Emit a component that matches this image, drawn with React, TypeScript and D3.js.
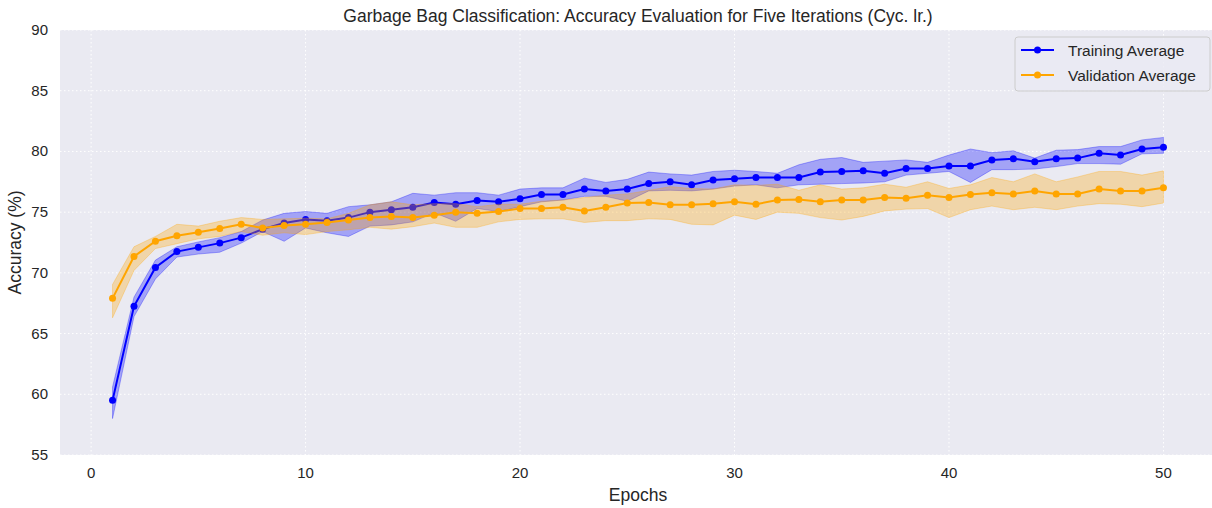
import React from "react";
import * as d3 from "d3";

const epochs: number[] = Array.from({ length: 50 }, (_, i) => i + 1);

const trainMean = [59.5, 67.25, 70.45, 71.75, 72.1, 72.45, 72.9, 73.6, 74.1, 74.4, 74.3, 74.55, 75.0, 75.2, 75.4, 75.8, 75.65, 75.95, 75.85, 76.1, 76.45, 76.45, 76.9, 76.75, 76.9, 77.35, 77.5, 77.25, 77.65, 77.75, 77.85, 77.85, 77.85, 78.3, 78.35, 78.4, 78.2, 78.6, 78.6, 78.8, 78.8, 79.3, 79.4, 79.15, 79.4, 79.45, 79.85, 79.7, 80.2, 80.35];
const trainHigh = [60.6, 68.0, 71.05, 72.15, 72.55, 72.9, 73.4, 74.35, 74.9, 75.05, 74.9, 75.45, 75.6, 75.85, 76.55, 76.4, 76.6, 76.6, 76.4, 76.9, 77.0, 77.0, 77.8, 77.45, 77.7, 78.3, 78.15, 78.05, 78.35, 78.45, 78.35, 78.2, 78.9, 79.35, 79.5, 79.1, 79.2, 79.3, 79.1, 79.7, 80.2, 79.9, 80.05, 79.45, 80.1, 80.15, 80.4, 80.4, 80.95, 81.15];
const trainLow = [58.0, 66.4, 69.5, 71.3, 71.55, 71.7, 72.45, 73.4, 72.6, 73.7, 73.3, 73.0, 73.85, 73.95, 74.2, 74.95, 74.25, 75.3, 75.05, 75.45, 75.85, 76.0, 76.3, 76.3, 75.9, 76.75, 76.8, 76.75, 76.9, 77.15, 77.25, 77.0, 77.25, 77.3, 77.35, 77.4, 77.5, 78.05, 78.2, 78.35, 77.45, 78.5, 78.5, 78.55, 78.75, 79.0, 79.0, 78.95, 79.8, 79.85];

const valMean = [67.9, 71.35, 72.6, 73.05, 73.35, 73.65, 74.0, 73.7, 73.9, 74.0, 74.15, 74.35, 74.55, 74.65, 74.55, 74.75, 75.0, 74.9, 75.05, 75.3, 75.3, 75.4, 75.1, 75.4, 75.75, 75.8, 75.6, 75.6, 75.7, 75.85, 75.65, 76.0, 76.05, 75.85, 76.0, 76.0, 76.2, 76.15, 76.4, 76.2, 76.45, 76.6, 76.5, 76.75, 76.5, 76.5, 76.9, 76.75, 76.75, 77.0];
const valHigh = [69.05, 72.15, 73.0, 74.0, 73.85, 74.25, 74.55, 74.4, 74.45, 74.5, 74.45, 74.9, 75.6, 75.85, 75.6, 75.7, 75.7, 75.45, 75.65, 75.65, 75.9, 76.0, 76.2, 76.4, 76.5, 76.8, 77.1, 76.95, 76.9, 77.25, 77.2, 77.3, 76.8, 77.25, 76.9, 77.0, 77.3, 77.05, 77.5, 76.95, 77.25, 77.85, 77.5, 78.15, 77.5, 77.9, 78.35, 78.35, 78.05, 78.4];
const valLow = [66.3, 70.2, 72.0, 72.4, 72.8, 73.0, 73.4, 73.1, 73.3, 73.15, 73.4, 73.55, 73.75, 73.6, 73.8, 74.1, 73.75, 73.75, 74.2, 74.4, 74.45, 74.45, 74.15, 74.3, 74.3, 74.45, 74.4, 74.0, 73.95, 74.75, 74.4, 75.0, 74.9, 74.55, 74.35, 74.65, 75.1, 75.25, 75.3, 74.55, 75.2, 75.5, 75.2, 75.4, 75.2, 75.5, 75.7, 75.65, 75.45, 75.75];

const xTicks = [0, 10, 20, 30, 40, 50];
const yTicks = [55, 60, 65, 70, 75, 80, 85, 90];

const W = 1212;
const H = 508;
const left = 60;
const right = 1216;
const top = 30;
const bottom = 455;
const FONT = "'Liberation Sans', Arial, 'DejaVu Sans', sans-serif";
const TXT = "#262626";

export default function App() {
  const x = d3.scaleLinear().domain([-1.45, 52.45]).range([left, right]);
  const y = d3.scaleLinear().domain([55, 90]).range([bottom, top]);

  const line = d3.line<number>().x((_, i) => x(epochs[i])).y((d) => y(d));
  const area = (lo: number[], hi: number[]) =>
    d3
      .area<number>()
      .x((_, i) => x(epochs[i]))
      .y0((_, i) => y(lo[i]))
      .y1((_, i) => y(hi[i]))(epochs) || "";

  const series = [
    { name: "Training Average", mean: trainMean, lo: trainLow, hi: trainHigh, color: "#0000FF" },
    { name: "Validation Average", mean: valMean, lo: valLow, hi: valHigh, color: "#FFA500" },
  ];

  return (
    <svg
      width={W}
      height={H}
      style={{ position: "absolute", left: 0, top: 0, display: "block" }}
      fontFamily={FONT}
    >
      <defs>
        <clipPath id="plotclip">
          <rect x={left} y={top} width={right - left} height={bottom - top} />
        </clipPath>
      </defs>
      <rect x={0} y={0} width={W} height={H} fill="#ffffff" />
      <rect x={left} y={top} width={right - left} height={bottom - top} fill="#EAEAF2" />
      {xTicks.map((t) => (
        <line key={"gx" + t} x1={x(t)} x2={x(t)} y1={top} y2={bottom} stroke="#ffffff" strokeWidth={1} strokeDasharray="1.5,2.5" />
      ))}
      {yTicks.map((t) => (
        <line key={"gy" + t} x1={left} x2={right} y1={y(t)} y2={y(t)} stroke="#ffffff" strokeWidth={1} strokeDasharray="1.5,2.5" />
      ))}
      <g clipPath="url(#plotclip)">
        {series.map((s) => (
          <g key={s.name}>
            <path d={area(s.lo, s.hi)} fill={s.color} fillOpacity={0.3} stroke={s.color} strokeOpacity={0.3} strokeWidth={1} />
            <path d={line(s.mean) || ""} fill="none" stroke={s.color} strokeWidth={2} />
            {s.mean.map((v, i) => (
              <circle key={i} cx={x(epochs[i])} cy={y(v)} r={3.5} fill={s.color} />
            ))}
          </g>
        ))}
      </g>
      {xTicks.map((t) => (
        <text key={"tx" + t} x={x(t)} y={bottom + 23} textAnchor="middle" fontSize={15} fill={TXT}>
          {t}
        </text>
      ))}
      {yTicks.map((t) => (
        <text key={"ty" + t} x={left - 12} y={y(t) + 5} textAnchor="end" fontSize={15} fill={TXT}>
          {t}
        </text>
      ))}
      <text x={(left + right) / 2} y={501} textAnchor="middle" fontSize={17.5} fill={TXT}>
        Epochs
      </text>
      <text transform={`translate(21,${(top + bottom) / 2}) rotate(-90)`} textAnchor="middle" fontSize={17.5} fill={TXT}>
        Accuracy (%)
      </text>
      <text x={(left + right) / 2} y={22} textAnchor="middle" fontSize={17.5} fill={TXT}>
        Garbage Bag Classification: Accuracy Evaluation for Five Iterations (Cyc. lr.)
      </text>
      <g>
        <rect x={1015} y={37} width={195} height={54} rx={3} fill="#EAEAF2" fillOpacity={0.8} stroke="#CCCCCC" strokeWidth={1} />
        {series.map((s, i) => {
          const ly = 50 + i * 25;
          return (
            <g key={"lg" + s.name}>
              <line x1={1021} x2={1054} y1={ly} y2={ly} stroke={s.color} strokeWidth={2} />
              <circle cx={1037.5} cy={ly} r={3.5} fill={s.color} />
              <text x={1068} y={ly + 5.5} fontSize={15.5} fill={TXT}>
                {s.name}
              </text>
            </g>
          );
        })}
      </g>
    </svg>
  );
}
